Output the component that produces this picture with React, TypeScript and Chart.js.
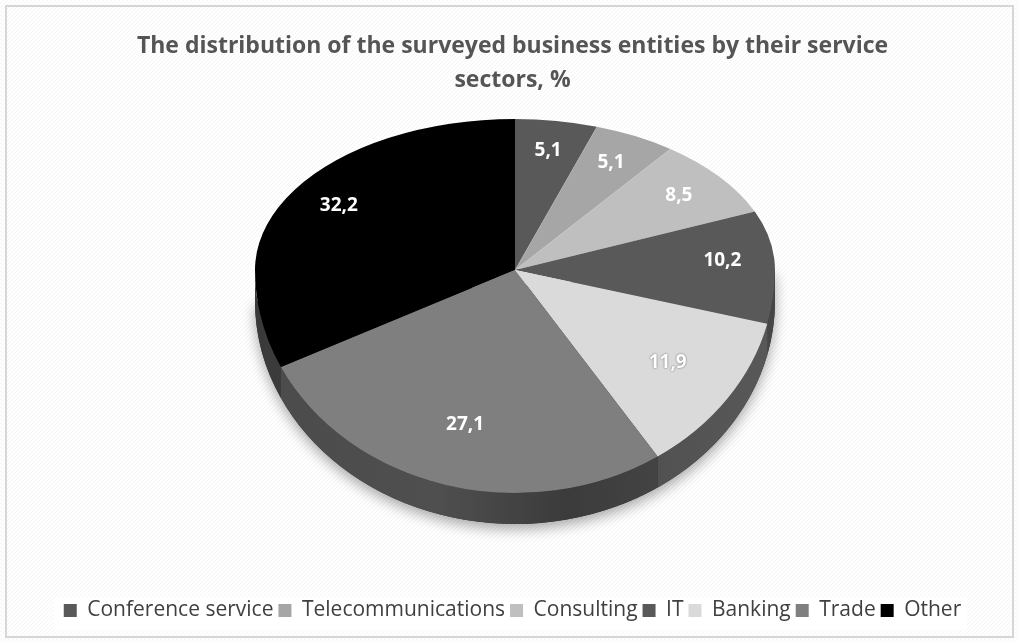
import React, { useEffect, useRef } from "react";
import { Chart, registerables } from "chart.js";
Chart.register(...registerables);

const categories = ["Conference service", "Telecommunications", "Consulting", "IT", "Banking", "Trade", "Other"];
const shares = [5.1, 5.1, 8.5, 10.2, 11.9, 27.1, 32.2];
const valueLabels = ["5,1", "5,1", "8,5", "10,2", "11,9", "27,1", "32,2"];
const sliceColors = ["#595959", "#a6a6a6", "#bfbfbf", "#595959", "#dadada", "#7f7f7f", "#000000"];
const wallColors = ["#3a3a3a", "#6a6a6a", "#7a7a7a", "#3d3d3d", "#4f4f4f", "#404040", "#2e2e2e"];
const titleLines = ["The distribution of the surveyed business entities by their service", "sectors, %"];

const GEOM = { cx: 515, cy: 270, rx: 260, ryTop: 151, ryBot: 223, depth: 31, labelTop: 0.8, labelBot: 0.72 };

const pie3d = {
  id: "pie3d",
  beforeDraw(chart: any) {
    const ctx = chart.ctx;
    const { width, height } = chart;
    ctx.save();
    ctx.fillStyle = "#ffffff";
    ctx.fillRect(0, 0, width, height);
    ctx.strokeStyle = "rgba(0,0,0,0.04)";
    ctx.lineWidth = 1;
    ctx.beginPath();
    for (let s = -height; s < width; s += 4) {
      ctx.moveTo(s, height);
      ctx.lineTo(s + height, 0);
    }
    ctx.stroke();
    ctx.strokeStyle = "#d6d6d6";
    ctx.lineWidth = 2;
    ctx.strokeRect(6, 6, width - 12, height - 12);
    const lg = chart.legend;
    if (lg && lg.legendHitBoxes && lg.legendHitBoxes.length) {
      const hb = lg.legendHitBoxes;
      const l = hb[0].left - 10;
      const r = hb[hb.length - 1].left + hb[hb.length - 1].width + 6;
      ctx.fillStyle = "#ffffff";
      ctx.fillRect(l, lg.top + 2, r - l, lg.height - 4);
    }
    ctx.restore();
  },
  beforeDatasetsDraw(chart: any) {
    const ctx = chart.ctx;
    const meta = chart.getDatasetMeta(0);
    const arcs = meta.data;
    const { cx, cy, rx, ryTop, ryBot, depth, labelTop, labelBot } = GEOM;

    // shadow under the pie
    ctx.save();
    ctx.shadowColor = "rgba(0,0,0,0.35)";
    ctx.shadowBlur = 14;
    ctx.shadowOffsetY = 5;
    ctx.beginPath();
    ctx.ellipse(cx, cy + depth, rx, ryBot, 0, 0, Math.PI);
    ctx.lineTo(cx + rx, cy);
    ctx.closePath();
    ctx.fillStyle = "#333333";
    ctx.fill();
    ctx.restore();

    // side walls
    arcs.forEach((arc: any, i: number) => {
      const { startAngle, endAngle } = arc.getProps(["startAngle", "endAngle"], true);
      const a0 = Math.max(startAngle, 0);
      const a1 = Math.min(endAngle, Math.PI);
      if (a1 <= a0) return;
      ctx.beginPath();
      ctx.ellipse(cx, cy, rx, ryBot, 0, a0, a1);
      ctx.ellipse(cx, cy + depth, rx, ryBot, 0, a1, a0, true);
      ctx.closePath();
      ctx.fillStyle = wallColors[i];
      ctx.fill();
    });
    ctx.save();
    const g = ctx.createLinearGradient(cx - rx, 0, cx + rx, 0);
    g.addColorStop(0, "rgba(255,255,255,0.06)");
    g.addColorStop(0.35, "rgba(255,255,255,0.08)");
    g.addColorStop(0.6, "rgba(0,0,0,0.08)");
    g.addColorStop(1, "rgba(255,255,255,0.05)");
    ctx.beginPath();
    ctx.ellipse(cx, cy, rx, ryBot, 0, 0, Math.PI);
    ctx.ellipse(cx, cy + depth, rx, ryBot, 0, Math.PI, 0, true);
    ctx.closePath();
    ctx.fillStyle = g;
    ctx.fill();
    ctx.restore();

    // top surface: library arcs drawn in two halves (perspective-like)
    const { x: ax, y: ay, outerRadius: r0 } = arcs[0].getProps(["x", "y", "outerRadius"], true);
    const halves = [
      { ry: ryTop, y0: ay - r0 - 2, h: r0 + 2 },
      { ry: ryBot, y0: ay - 0.8, h: r0 + 3 },
    ];
    halves.forEach((hf) => {
      ctx.save();
      ctx.translate(cx, cy);
      ctx.scale(rx / r0, hf.ry / r0);
      ctx.translate(-ax, -ay);
      ctx.beginPath();
      ctx.rect(ax - r0 - 2, hf.y0, 2 * r0 + 4, hf.h);
      ctx.clip();
      arcs.forEach((a: any) => a.draw(ctx, chart.chartArea));
      ctx.restore();
    });

    // value labels
    ctx.save();
    ctx.font = "bold 19px 'Open Sans'";
    ctx.textAlign = "center";
    ctx.textBaseline = "middle";
    arcs.forEach((arc: any, i: number) => {
      const { startAngle, endAngle } = arc.getProps(["startAngle", "endAngle"], true);
      const mid = (startAngle + endAngle) / 2;
      const s = Math.sin(mid);
      const ry = s < 0 ? ryTop : ryBot;
      const f = s < 0 ? labelTop : labelBot;
      const x = cx + Math.cos(mid) * rx * f;
      const y = cy + s * ry * f;
      if (sliceColors[i] === "#dadada") {
        ctx.shadowColor = "rgba(0,0,0,0.6)";
        ctx.shadowBlur = 2;
      } else {
        ctx.shadowColor = "transparent";
        ctx.shadowBlur = 0;
      }
      ctx.fillStyle = "#ffffff";
      ctx.fillText(valueLabels[i], x, y);
    });
    ctx.restore();
    return false;
  },
};

export default function App() {
  const ref = useRef<HTMLCanvasElement | null>(null);
  useEffect(() => {
    if (!ref.current) return;
    const chart = new Chart(ref.current, {
      type: "pie",
      data: {
        labels: categories,
        datasets: [
          {
            data: shares,
            backgroundColor: sliceColors,
            borderWidth: 0,
            clip: false as any,
          },
        ],
      },
      options: {
        responsive: false,
        animation: false,
        layout: { padding: { top: 29, bottom: 12, left: 26, right: 20 } },
        plugins: {
          title: {
            display: true,
            text: titleLines,
            color: "#555555",
            font: { family: "Open Sans", size: 23, weight: "bold", lineHeight: 1.48 },
            padding: { top: 0, bottom: 0 },
          },
          legend: {
            position: "bottom",
            labels: {
              boxWidth: 13,
              boxHeight: 13,
              color: "#404040",
              font: { family: "Open Sans", size: 21 },
              padding: 5,
            },
          },
          tooltip: { enabled: false },
        },
      },
      plugins: [pie3d],
    });
    return () => chart.destroy();
  }, []);
  return (
    <div style={{ position: "absolute", left: 0, top: 0, width: 1019, height: 643 }}>
      <canvas ref={ref} width={1019} height={643} style={{ display: "block" }} />
    </div>
  );
}
